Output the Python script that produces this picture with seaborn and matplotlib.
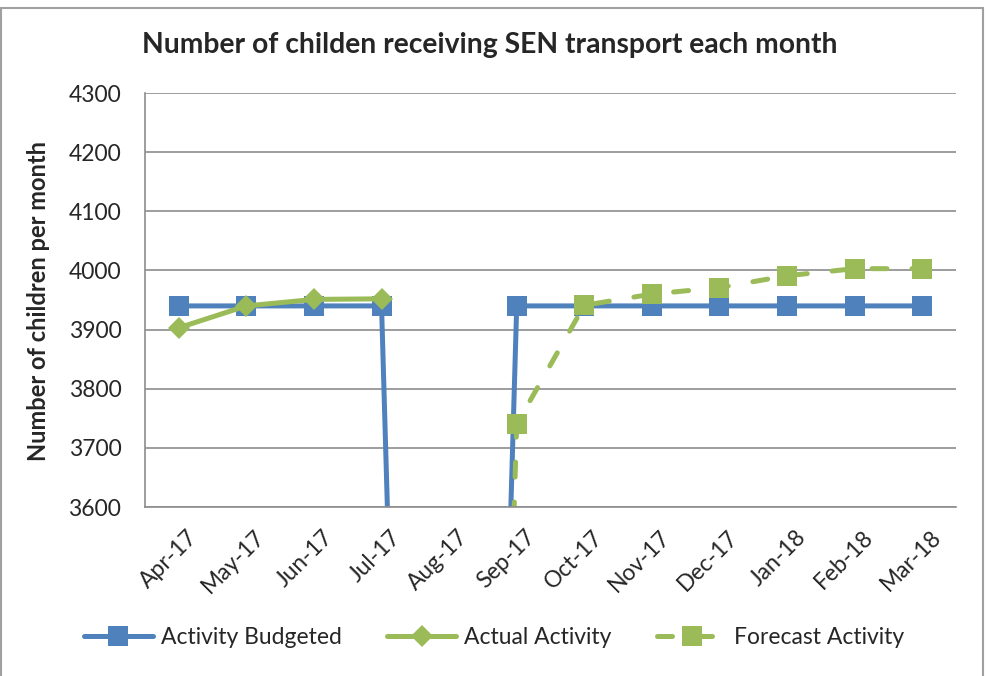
import seaborn as sns
import matplotlib.pyplot as plt
import matplotlib.transforms as mtransforms
import pandas as pd
import numpy as np
from matplotlib.patches import Rectangle

months = ['Apr-17', 'May-17', 'Jun-17', 'Jul-17', 'Aug-17', 'Sep-17',
          'Oct-17', 'Nov-17', 'Dec-17', 'Jan-18', 'Feb-18', 'Mar-18']
budgeted = [3940, 3940, 3940, 3940, 0, 3940, 3940, 3940, 3940, 3940, 3940, 3940]
actual_months = months[:4]
actual = [3903, 3940, 3951, 3952]
forecast_months = months[4:]
forecast = [0, 3740, 3941, 3960, 3971, 3991, 4003, 4003]

blue = '#4F81BD'
green = '#9BBB59'
grey = '#8C8C8C'

sns.set_style('white')
plt.rcParams['font.family'] = ['Lato', 'DejaVu Sans']

df_b = pd.DataFrame({'month': months, 'value': budgeted})
df_a = pd.DataFrame({'month': actual_months, 'value': actual})
df_f = pd.DataFrame({'month': forecast_months, 'value': forecast})

fig = plt.figure(figsize=(9.88, 6.76), dpi=100)
ax = fig.add_axes([145/988, 1-507/676, (956-145)/988, (507-93)/676])

sns.lineplot(data=df_b, x='month', y='value', ax=ax, sort=False, color=blue,
             lw=3.6, marker='s', ms=14, mec=blue, mew=0, label='Activity Budgeted')
sns.lineplot(data=df_a, x='month', y='value', ax=ax, sort=False, color=green,
             lw=3.6, marker='D', ms=11, mec=green, mew=0, label='Actual Activity')
sns.lineplot(data=df_f, x='month', y='value', ax=ax, sort=False, color=green,
             lw=3.6, marker='s', ms=14, mec=green, mew=0, linestyle=(0, (3, 5)),
             dash_capstyle='round', label='Forecast Activity')

ax.set_ylim(3600, 4300)
ax.set_yticks(np.arange(3600, 4301, 100))
ax.set_xlim(-0.5, len(months) - 0.5)
ax.set_xticks(range(len(months)))
ax.set_xticklabels(months, rotation=45, ha='right', rotation_mode='anchor')
ax.set_xticks(np.arange(-0.5, len(months), 1), minor=True)
ax.tick_params(axis='x', which='major', length=0, pad=14, labelsize=16.5)
ax.tick_params(axis='x', which='minor', length=7, width=1.2, color=grey, direction='out')
ax.tick_params(axis='y', length=9, width=1.2, color=grey, direction='out', labelsize=16.5, pad=8)
offset = mtransforms.ScaledTranslation(8/100, 0, fig.dpi_scale_trans)
for lbl in ax.get_xticklabels():
    lbl.set_transform(lbl.get_transform() + offset)
ax.yaxis.grid(True, color=grey, lw=1.2)
ax.set_axisbelow(True)
for s in ['top', 'right']:
    ax.spines[s].set_visible(False)
for s in ['left', 'bottom']:
    ax.spines[s].set_color(grey)
    ax.spines[s].set_linewidth(1.2)
ax.set_xlabel('')
ax.set_ylabel('')

fig.text(0.496, 1-45/676, 'Number of childen receiving SEN transport each month',
         ha='center', va='center', fontsize=20.3, fontweight='bold')
fig.text(38/988, 1-301/676, 'Number of children per month', rotation=90,
         ha='center', va='center', fontsize=17, fontweight='bold')

handles, labels = ax.get_legend_handles_labels()
ax.legend_.remove()
fig.legend(handles, labels, loc='center', bbox_to_anchor=(0.5, 1-638/676), ncol=3,
           frameon=False, fontsize=16.5, handlelength=3.0, columnspacing=2.0, handletextpad=0.35)

fig.patches.append(Rectangle((0.001, -0.01), 0.994, 0.004 + 1 - 4/676, transform=fig.transFigure,
                             fill=False, edgecolor='#A0A0A0', lw=1.5))

plt.savefig('out.png', dpi=100)
